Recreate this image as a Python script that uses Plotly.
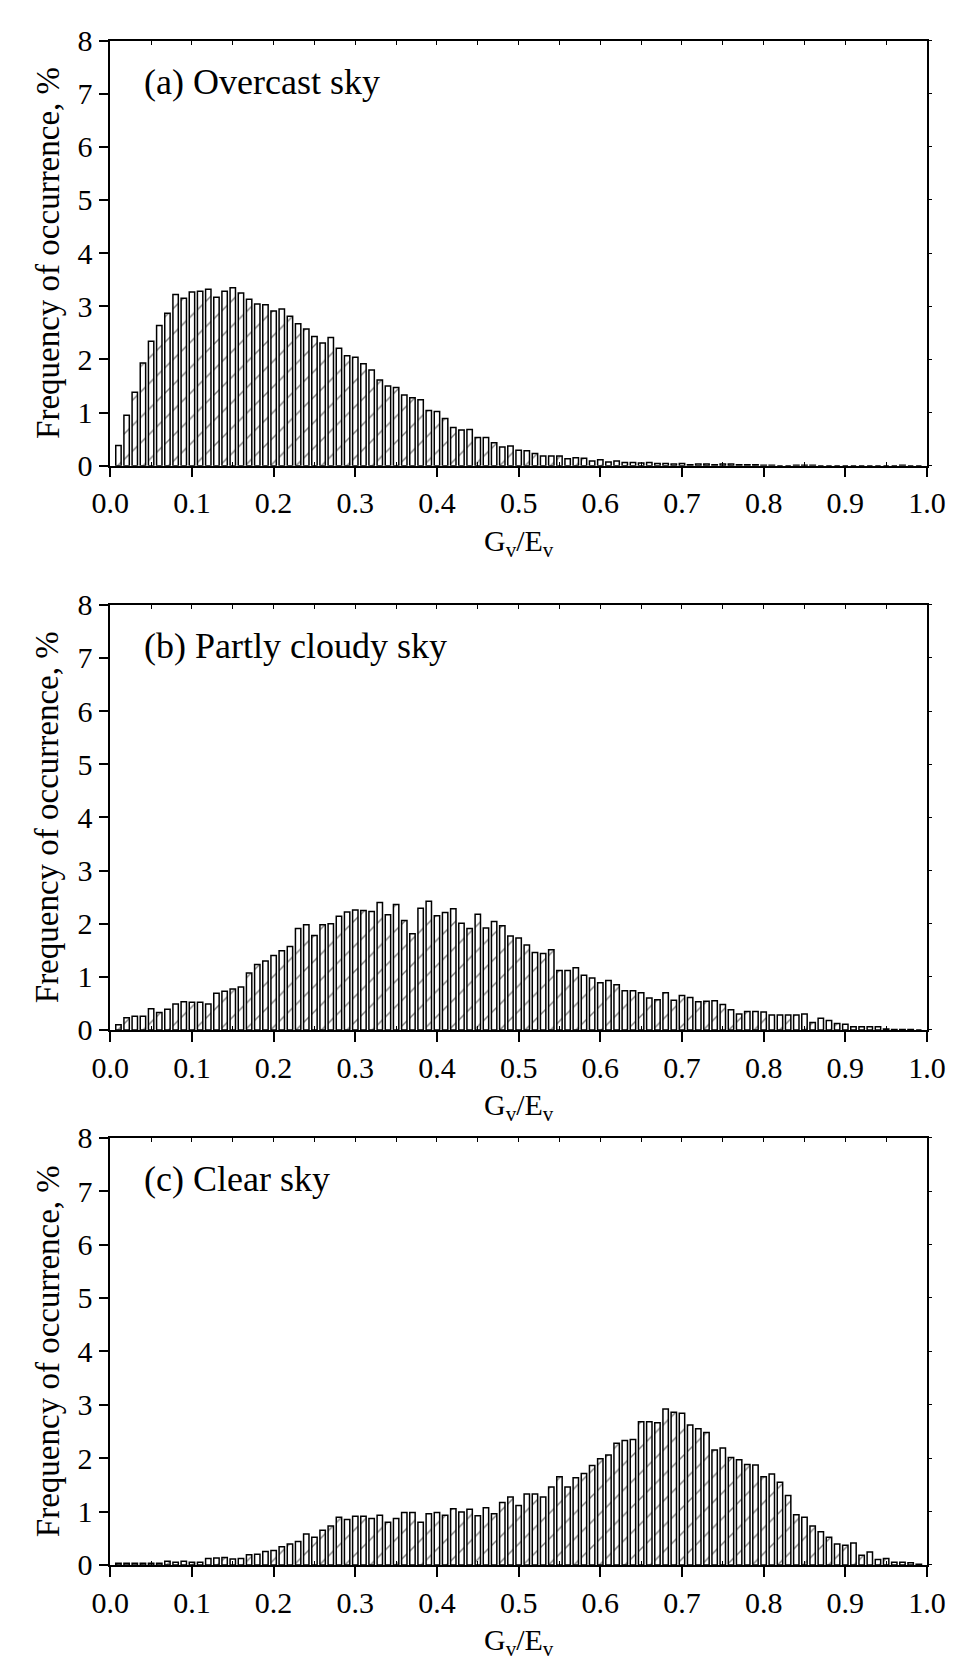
import plotly.graph_objects as go

# ---------------- data ----------------
bins = [round(0.01 * i, 2) for i in range(1, 100)]

overcast = [
    0.38, 0.95, 1.38, 1.93, 2.34, 2.64, 2.87, 3.22, 3.15, 3.27,
    3.28, 3.32, 3.17, 3.28, 3.35, 3.25, 3.13, 3.04, 3.03, 2.91,
    2.95, 2.81, 2.67, 2.57, 2.43, 2.31, 2.41, 2.21, 2.07, 2.04,
    1.92, 1.80, 1.61, 1.50, 1.47, 1.33, 1.28, 1.24, 1.04, 1.02,
    0.89, 0.72, 0.67, 0.68, 0.53, 0.53, 0.43, 0.35, 0.37, 0.29,
    0.28, 0.23, 0.18, 0.18, 0.18, 0.13, 0.15, 0.14, 0.09, 0.11,
    0.07, 0.09, 0.06, 0.06, 0.05, 0.06, 0.04, 0.04, 0.03, 0.04,
    0.02, 0.03, 0.03, 0.02, 0.03, 0.03, 0.02, 0.02, 0.02, 0.01,
    0.01, 0.00, 0.00, 0.01, 0.01, 0.01, 0.00, 0.00, 0.00, 0.00,
    0.00, 0.00, 0.00, 0.00, 0.00, 0.00, 0.01, 0.00, 0.00,
]

partly = [
    0.10, 0.23, 0.26, 0.26, 0.40, 0.33, 0.39, 0.49, 0.53, 0.52,
    0.52, 0.49, 0.69, 0.73, 0.77, 0.81, 1.07, 1.23, 1.30, 1.40,
    1.49, 1.57, 1.91, 1.98, 1.78, 1.98, 2.00, 2.14, 2.22, 2.26,
    2.25, 2.23, 2.40, 2.17, 2.36, 2.06, 1.81, 2.29, 2.42, 2.15,
    2.21, 2.28, 2.01, 1.91, 2.18, 1.92, 2.04, 1.96, 1.77, 1.73,
    1.60, 1.46, 1.44, 1.51, 1.12, 1.12, 1.17, 1.03, 0.98, 0.89,
    0.93, 0.85, 0.74, 0.74, 0.70, 0.60, 0.57, 0.70, 0.56, 0.65,
    0.61, 0.53, 0.54, 0.55, 0.48, 0.38, 0.30, 0.35, 0.35, 0.34,
    0.28, 0.28, 0.28, 0.28, 0.30, 0.14, 0.22, 0.18, 0.12, 0.11,
    0.06, 0.06, 0.06, 0.06, 0.02, 0.01, 0.01, 0.01, 0.00,
]

clear = [
    0.03, 0.03, 0.03, 0.03, 0.03, 0.03, 0.07, 0.05, 0.07, 0.05,
    0.05, 0.12, 0.13, 0.14, 0.11, 0.12, 0.19, 0.20, 0.25, 0.27,
    0.34, 0.39, 0.44, 0.58, 0.52, 0.65, 0.73, 0.89, 0.85, 0.91,
    0.91, 0.87, 0.93, 0.80, 0.87, 0.98, 0.98, 0.80, 0.96, 0.98,
    0.93, 1.05, 0.99, 1.04, 0.92, 1.07, 0.96, 1.17, 1.27, 1.11,
    1.33, 1.33, 1.27, 1.46, 1.65, 1.46, 1.63, 1.71, 1.86, 1.99,
    2.06, 2.28, 2.33, 2.35, 2.68, 2.68, 2.66, 2.92, 2.86, 2.84,
    2.62, 2.55, 2.48, 2.15, 2.19, 2.01, 1.97, 1.88, 1.87, 1.65,
    1.70, 1.55, 1.30, 0.94, 0.89, 0.73, 0.62, 0.52, 0.39, 0.37,
    0.41, 0.18, 0.24, 0.10, 0.12, 0.05, 0.05, 0.04, 0.01,
]

panel_titles = ["(a) Overcast sky", "(b) Partly cloudy sky", "(c) Clear sky"]
x_tickvals = [0.0, 0.1, 0.2, 0.3, 0.4, 0.5, 0.6, 0.7, 0.8, 0.9, 1.0]
x_ticktext = ["0.0", "0.1", "0.2", "0.3", "0.4", "0.5", "0.6", "0.7", "0.8", "0.9", "1.0"]
y_tickvals = [0, 1, 2, 3, 4, 5, 6, 7, 8]
x_title = "G<sub>v</sub>/E<sub>v</sub>"
y_title = "Frequency of occurrence, %"

# ---------------- layout geometry (pixels) ----------------
W, H = 970, 1673
x_left, x_right = 95, 945
panels_px = [(24, 458), (600, 1034), (1144, 1580)]  # (top, bottom)

FONT = "Liberation Serif, Times New Roman, serif"

fig = go.Figure()
series = [overcast, partly, clear]
layout = dict(
    width=W, height=H,
    margin=dict(l=0, r=0, t=0, b=0),
    paper_bgcolor="white", plot_bgcolor="white",
    showlegend=False,
    font=dict(family=FONT, color="black"),
    bargap=0.33,
    annotations=[],
)

xdom = [x_left / W, x_right / W]
for i, (vals, (top, bot)) in enumerate(zip(series, panels_px), start=1):
    ydom = [1 - bot / H, 1 - top / H]
    xa = "x" if i == 1 else f"x{i}"
    ya = "y" if i == 1 else f"y{i}"
    fig.add_trace(go.Bar(
        x=bins, y=vals, xaxis=xa, yaxis=ya, width=0.0066,
        marker=dict(color="white", line=dict(color="black", width=1.5),
                    pattern=dict(shape="/", fgcolor="black", bgcolor="white",
                                 size=18, solidity=0.08)),
    ))
    xo, yo = i + 3, i + 3
    fig.add_trace(go.Scatter(x=[None], y=[None], xaxis=f"x{xo}", yaxis=f"y{yo}",
                             showlegend=False, hoverinfo="skip"))
    layout[f"xaxis{'' if i == 1 else i}"] = dict(
        domain=xdom, anchor=ya, range=[0, 1],
        tickvals=x_tickvals, ticktext=x_ticktext,
        ticks="outside", ticklen=10, tickwidth=1.5, tickcolor="black",
        showline=True, linewidth=1.5, linecolor="black", mirror=True,
        showgrid=False, zeroline=False,
        minor=dict(tickvals=[0.05, 0.15, 0.25, 0.35, 0.45, 0.55, 0.65, 0.75, 0.85, 0.95],
                   ticks="inside", ticklen=4, tickwidth=1, tickcolor="black"),
        tickfont=dict(size=30, family=FONT),
    )
    layout[f"yaxis{'' if i == 1 else i}"] = dict(
        domain=ydom, anchor=xa, range=[0, 8],
        tickvals=y_tickvals,
        ticks="outside", ticklen=10, tickwidth=1.5, tickcolor="black",
        showline=True, linewidth=1.5, linecolor="black", mirror=True,
        showgrid=False, zeroline=False,
        tickfont=dict(size=30, family=FONT),
    )
    layout[f"xaxis{xo}"] = dict(
        overlaying=xa, side="top", anchor=ya, range=[0, 1],
        tickvals=[0.05 * k for k in range(1, 20)],
        ticks="inside", ticklen=4, tickwidth=1, tickcolor="black",
        showticklabels=False, showline=False, showgrid=False, zeroline=False,
    )
    layout[f"yaxis{yo}"] = dict(
        overlaying=ya, side="right", anchor=xa, range=[0, 8],
        tickvals=y_tickvals,
        ticks="outside", ticklen=4, tickwidth=1, tickcolor="black",
        showticklabels=False, showline=False, showgrid=False, zeroline=False,
    )
    layout["annotations"].append(dict(
        text=panel_titles[i - 1], xref=f"{xa} domain", yref=f"{ya} domain",
        x=(128 - x_left) / (x_right - x_left), y=1 - 42 / (bot - top),
        xanchor="left", yanchor="middle", showarrow=False,
        font=dict(size=36, family=FONT, color="black"),
    ))
    layout["annotations"].append(dict(
        text=y_title, xref="paper", yref="paper",
        x=30 / W, y=1 - ((top + bot) / 2) / H, textangle=-90,
        xanchor="center", yanchor="middle", showarrow=False,
        font=dict(size=33, family=FONT, color="black"),
    ))
    layout["annotations"].append(dict(
        text=x_title, xref="paper", yref="paper",
        x=(x_left + x_right) / 2 / W, y=1 - (bot + 57) / H,
        xanchor="center", yanchor="top", showarrow=False,
        font=dict(size=30, family=FONT, color="black"),
    ))

fig.update_layout(**layout)
fig.write_html("out.html")
